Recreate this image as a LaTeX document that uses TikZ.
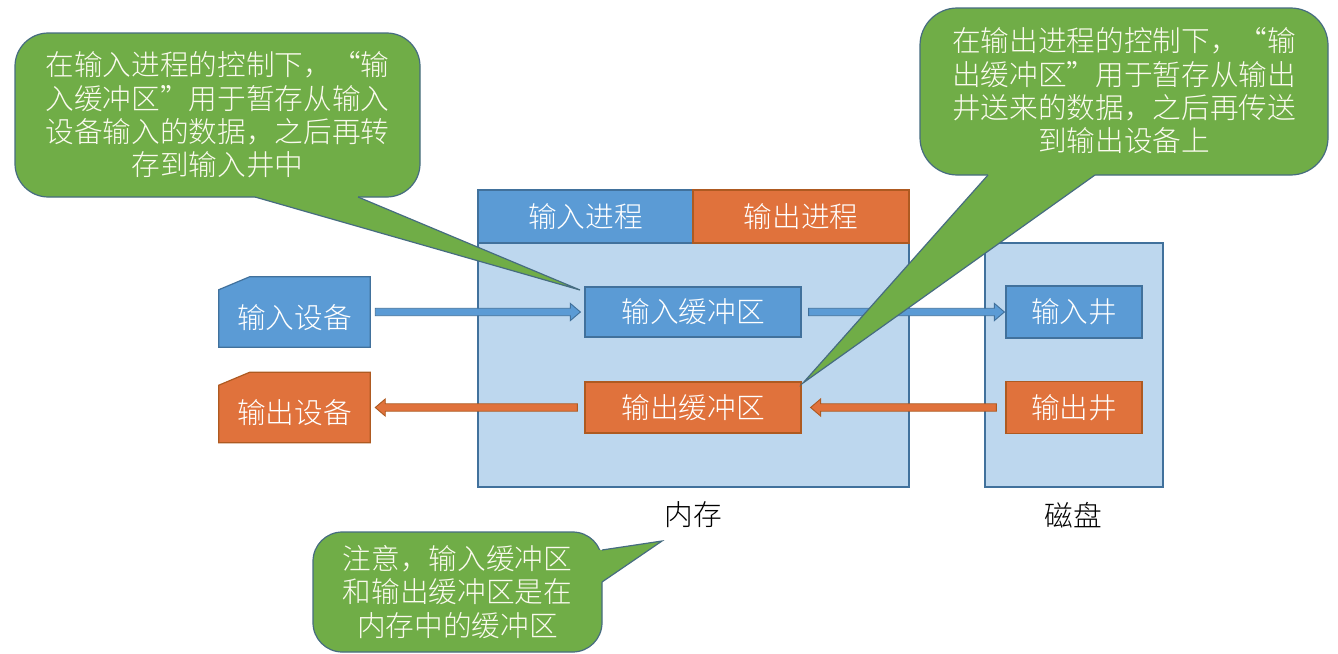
\documentclass[tikz,border=0pt]{standalone}
\usepackage{fontspec}
\newfontfamily\cjk{Noto Sans CJK SC Light}
\usetikzlibrary{calc,backgrounds}
\definecolor{bfill}{RGB}{91,155,213}
\definecolor{bline}{RGB}{65,113,156}
\definecolor{ofill}{RGB}{224,114,60}
\definecolor{oline}{RGB}{174,90,33}
\definecolor{mfill}{RGB}{189,215,238}
\definecolor{gfill}{RGB}{112,173,71}
\definecolor{gline}{RGB}{70,108,128}
\definecolor{ctext}{RGB}{250,250,238}
\newcommand{\lblfont}{\cjk\fontsize{21.5}{25}\selectfont}
\newcommand{\blockarrow}[3]{%
  \coordinate (baH) at ($(#2)!7.5pt!(#1)$);
  \draw[#3] ($(#1)!2.8pt!90:(#2)$) -- ($(baH)!2.8pt!90:(#2)$) -- ($(baH)!6.4pt!90:(#2)$) -- (#2)
    -- ($(baH)!6.4pt!-90:(#2)$) -- ($(baH)!2.8pt!-90:(#2)$) -- ($(#1)!2.8pt!-90:(#2)$) -- cycle;}
\tikzset{
  wh/.style 2 args={minimum width=#1*0.75pt, minimum height=#2*0.75pt},
  box/.style={draw, line width=0.9pt, inner sep=0pt, text=white, font=\lblfont},
  bbox/.style={box, fill=bfill, draw=bline},
  obox/.style={box, fill=ofill, draw=oline},
  mbox/.style={draw=bline, fill=mfill, line width=0.9pt, inner sep=0pt},
  lbl/.style={inner sep=0pt, font=\lblfont},
  ctxt/.style={inner sep=0pt, font=\lblfont, text=ctext, align=center},
  cbody/.style={fill=gfill, draw=gline, line width=0.9pt},
  cedge/.style={draw=gline, line width=0.9pt, line join=miter},
  barrow/.style={fill=bfill, draw=bline, line width=0.7pt},
  oarrow/.style={fill=ofill, draw=oline, line width=0.7pt},
}
\begin{document}
\begin{tikzpicture}[x=0.75pt,y=-0.75pt]
\useasboundingbox (0,0) rectangle (1338,653);

% memory and disk
\node[mbox, wh={431}{297}] (mem) at (693.5,338.5) {};
\node[bbox, wh={215}{53}] (inproc) at (585.5,216.5) {输入进程};
\node[obox, wh={216}{53}] (outproc) at (801,216.5) {输出进程};
\node[mbox, wh={178}{244}] (disk) at (1074,365) {};

\node[bbox, wh={216}{50}] (inbuf) at (693,312) {输入缓冲区};
\node[obox, wh={216}{51}] (outbuf) at (693,407.5) {输出缓冲区};
\node[bbox, wh={136}{52}] (inwell) at (1074,312) {输入井};
\node[obox, wh={136}{52}] (outwell) at (1074,407.5) {输出井};

\node[lbl] (memlbl) at (693,515) {内存};
\node[lbl] (disklbl) at (1073,515) {磁盘};

% devices
\node[inner sep=0pt, wh={151}{70}] (indev) at (294.5,312) {};
\node[inner sep=0pt, wh={151}{70}] (outdev) at (294.5,407.5) {};
\node[lbl, text=white] (indevt) at (294.5,318) {输入设备};
\node[lbl, text=white] (outdevt) at (294.5,413) {输出设备};
\begin{scope}[on background layer]
  \fill[white] (0,0) rectangle (1338,653);
  \filldraw[fill=bfill, draw=bline, line width=0.9pt] (indev.south west) -- (indev.south east) -- (indev.north east)
     -- ($(indev.north west)+(31,0)$) -- ($(indev.north west)+(0,13)$) -- cycle;
  \filldraw[fill=ofill, draw=oline, line width=0.9pt] (outdev.south west) -- (outdev.south east) -- (outdev.north east)
     -- ($(outdev.north west)+(31,0)$) -- ($(outdev.north west)+(0,13)$) -- cycle;
\end{scope}

% arrows
\coordinate (a1s) at ($(indev.east)+(5,0)$);
\coordinate (a1e) at ($(inbuf.west)+(-4,0)$);
\coordinate (a2s) at ($(inbuf.east)+(7,0)$);
\coordinate (a2e) at ($(inwell.west)+(-1,0)$);
\coordinate (a3s) at ($(outwell.west)+(-9,0)$);
\coordinate (a3e) at ($(outbuf.east)+(9,0)$);
\coordinate (a4s) at ($(outbuf.west)+(-7,0)$);
\coordinate (a4e) at ($(outdev.east)+(5,0)$);
\blockarrow{a1s}{a1e}{barrow}
\blockarrow{a2s}{a2e}{barrow}
\blockarrow{a3s}{a3e}{oarrow}
\blockarrow{a4s}{a4e}{oarrow}

% left callout
\draw[cbody, rounded corners=25] (15,33) rectangle (420,197);
\fill[gfill] (255,193) -- (255,197) -- (580,290) -- (358,197) -- (358,193) -- cycle;
\draw[cedge] (358,197) -- (580,290) -- (255,197);
\node[ctxt] (c1) at (217.5,115) {在输入进程的控制下，“输\\入缓冲区”用于暂存从输入\\设备输入的数据，之后再转\\存到输入井中};

% right callout
\draw[cbody, rounded corners=28] (920,8) rectangle (1328,175);
\fill[gfill] (988,171) -- (988,175) -- (803,383) -- (1095,175) -- (1095,171) -- cycle;
\draw[cedge] (1095,175) -- (803,383) -- (988,175);
\node[ctxt] (c2) at (1124,91) {在输出进程的控制下，“输\\出缓冲区”用于暂存从输出\\井送来的数据，之后再传送\\到输出设备上};

% bottom callout
\draw[cbody, rounded corners=22] (313,532) rectangle (602,652);
\fill[gfill] (598,550) -- (602,550) -- (662,541) -- (602,582) -- (598,582) -- cycle;
\draw[cedge] (602,550) -- (662,541) -- (602,582);
\node[ctxt] (c3) at (457.5,592) {注意，输入缓冲区\\和输出缓冲区是在\\内存中的缓冲区};
\end{tikzpicture}
\end{document}
